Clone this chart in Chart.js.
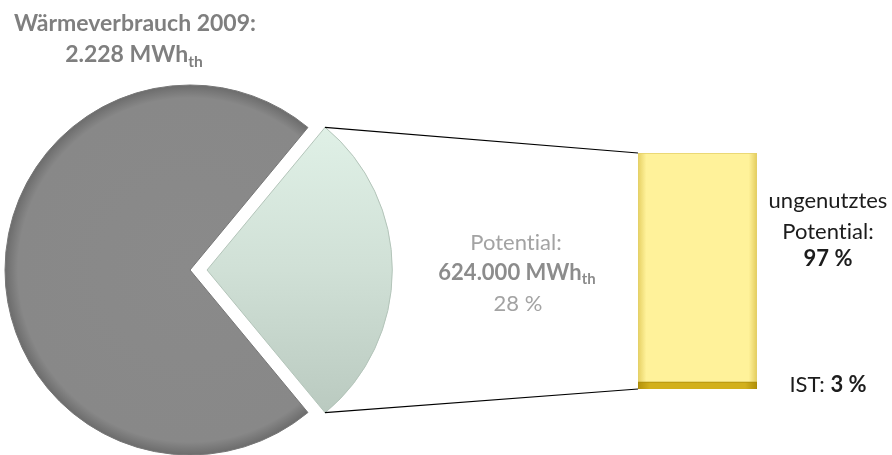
<!DOCTYPE html>
<html>
<head>
<meta charset="utf-8">
<script src="https://cdn.jsdelivr.net/npm/chart.js@4/dist/chart.umd.min.js"></script>
<style>
html, body { margin: 0; padding: 0; background: #fff; }
#wrap { position: relative; width: 892px; height: 455px; overflow: hidden; font-family: Lato, "Open Sans", sans-serif; font-variant-ligatures: none; }
#pieCanvas { position: absolute; left: 0; top: 0; }
#barCanvas { position: absolute; left: 638px; top: 153px; }
.label { position: absolute; transform: translateX(-50%); text-align: center; white-space: nowrap; font-size: 22px; line-height: 28px; }
.label sub { font-size: 0.68em; vertical-align: -0.3em; line-height: 0; }
.grey { color: #7f7f7f; font-weight: bold; font-size: 23px; }
.light { color: #a3a3a3; }
.mid { color: #8c8c8c; font-weight: bold; }
.dark { color: #1c1c1c; }
</style>
</head>
<body>
<div id="wrap">
    <canvas id="pieCanvas" width="892" height="455"></canvas>
    <canvas id="barCanvas" width="119" height="236"></canvas>

    <div class="label grey" style="left:135px; top:8px;">Wärmeverbrauch 2009:</div>
    <div class="label grey" style="left:134px; top:39px;">2.228 MWh<sub>th</sub></div>

    <div class="label light" style="left:516px; top:228px;">Potential:</div>
    <div class="label mid" style="left:517px; top:258px;">624.000 MWh<sub>th</sub></div>
    <div class="label light" style="left:518px; top:289px;">28 %</div>

    <div class="label dark" style="left:828px; top:186px;">ungenutztes</div>
    <div class="label dark" style="left:828px; top:217px;">Potential:</div>
    <div class="label dark" style="left:828px; top:244px;"><b>97 %</b></div>
    <div class="label dark" style="left:828px; top:370px;">IST: <b>3 %</b></div>
</div>

<script>
// pie: total heat use split into the rest and the potential share
var pieLabels = ['Restlicher Wärmeverbrauch', 'Potential'];
var pieValues = [72, 28];

// bar: how much of the potential is used today
var barLabels = ['Potential'];
var istValues = [3];
var unusedValues = [97];

var pieCenterX = 190;
var pieRadius = 185;

function pieFill(context) {
    var ctx = context.chart.ctx;
    var area = context.chart.chartArea;
    var isPotential = context.dataIndex === 1;
    if (!area) {
        return isPotential ? '#cfe0d6' : '#898989';
    }
    var cx = (area.left + area.right) / 2;
    var cy = (area.top + area.bottom) / 2;
    var g;
    if (isPotential) {
        g = ctx.createLinearGradient(0, cy - pieRadius * 0.8, 0, cy + pieRadius * 0.8);
        g.addColorStop(0, '#e0f1e7');
        g.addColorStop(0.5, '#d0e0d6');
        g.addColorStop(1, '#b9c9bf');
        return g;
    }
    g = ctx.createRadialGradient(cx, cy, 0, cx, cy, pieRadius);
    g.addColorStop(0, '#8a8a8a');
    g.addColorStop(0.93, '#888888');
    g.addColorStop(1, '#6c6c6c');
    return g;
}

function yellowFill(context) {
    var g = context.chart.ctx.createLinearGradient(0, 0, context.chart.width, 0);
    g.addColorStop(0, '#e6d063');
    g.addColorStop(0.07, '#fff29a');
    g.addColorStop(0.93, '#fff29a');
    g.addColorStop(1, '#e3cc5c');
    return g;
}

function goldFill(context) {
    var g = context.chart.ctx.createLinearGradient(0, 0, context.chart.width, 0);
    g.addColorStop(0, '#b3920a');
    g.addColorStop(0.1, '#d2b01c');
    g.addColorStop(0.9, '#d2b01c');
    g.addColorStop(1, '#b08f08');
    return g;
}

var barChart = new Chart(document.getElementById('barCanvas'), {
    type: 'bar',
    data: {
        labels: barLabels,
        datasets: [{
            label: 'IST',
            data: istValues,
            backgroundColor: goldFill,
            borderColor: '#a98a08',
            borderWidth: 1,
            barPercentage: 1,
            categoryPercentage: 1
        }, {
            label: 'ungenutztes Potential',
            data: unusedValues,
            backgroundColor: yellowFill,
            borderColor: '#e4d06a',
            borderWidth: 1,
            barPercentage: 1,
            categoryPercentage: 1
        }]
    },
    options: {
        responsive: false,
        animation: false,
        layout: { padding: 0 },
        plugins: { legend: { display: false }, tooltip: { enabled: false } },
        scales: {
            x: { display: false, stacked: true },
            y: { display: false, stacked: true, min: 0, max: 100 }
        }
    }
});

// lines from the potential slice to the corners of the bar
var connectorPlugin = {
    id: 'connector',
    afterDraw: function (chart) {
        var arc = chart.getDatasetMeta(0).data[1];
        var barTop = barChart.getDatasetMeta(1).data[0];
        var barBottom = barChart.getDatasetMeta(0).data[0];
        var shift = (arc.options.offset || 0) / 4;
        var mid = (arc.startAngle + arc.endAngle) / 2;
        var cx = arc.x + Math.cos(mid) * shift;
        var cy = arc.y + Math.sin(mid) * shift;
        var left = 638 + barTop.x - barTop.width / 2;
        var ctx = chart.ctx;

        ctx.save();
        ctx.strokeStyle = '#000';
        ctx.lineWidth = 1.2;
        ctx.beginPath();
        ctx.moveTo(cx + Math.cos(arc.startAngle) * arc.outerRadius, cy + Math.sin(arc.startAngle) * arc.outerRadius);
        ctx.lineTo(left, 153 + barTop.y);
        ctx.moveTo(cx + Math.cos(arc.endAngle) * arc.outerRadius, cy + Math.sin(arc.endAngle) * arc.outerRadius);
        ctx.lineTo(left, 153 + barBottom.base);
        ctx.stroke();
        ctx.restore();
    }
};

var pieChart = new Chart(document.getElementById('pieCanvas'), {
    type: 'pie',
    data: {
        labels: pieLabels,
        datasets: [{
            data: pieValues,
            backgroundColor: pieFill,
            borderColor: ['#777777', '#b3c4b9'],
            borderWidth: 1,
            offset: [0, 68],
            radius: pieRadius,
            clip: false
        }]
    },
    options: {
        responsive: false,
        animation: false,
        rotation: 140.4,
        layout: { padding: { left: 0, right: 892 - pieCenterX * 2, top: 85, bottom: 0 } },
        plugins: { legend: { display: false }, tooltip: { enabled: false } }
    },
    plugins: [connectorPlugin]
});
</script>
</body>
</html>
